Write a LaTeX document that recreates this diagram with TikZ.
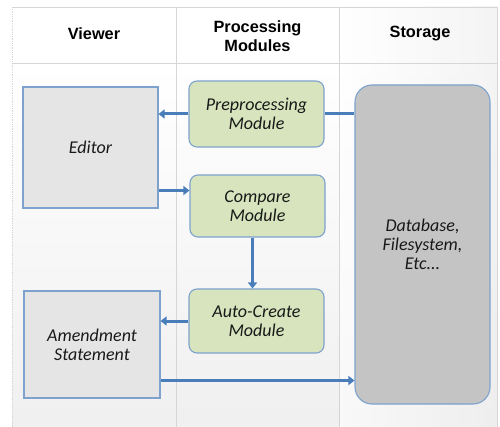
\documentclass[tikz,border=0pt]{standalone}
\usepackage{fontspec}
\setmainfont{Carlito}
\newfontfamily\hdrfont{Liberation Sans}
\usetikzlibrary{arrows.meta,calc}
\definecolor{arrblue}{HTML}{4A7EBB}
\definecolor{boxedge}{HTML}{7EA2CE}
\definecolor{greenfill}{HTML}{D7E4BD}
\definecolor{grayfill}{HTML}{E5E5E5}
\definecolor{storefill}{HTML}{C4C4C4}
\definecolor{gridline}{HTML}{D6D6D6}
\tikzset{
  hdr/.style={font=\hdrfont\bfseries\fontsize{16.3}{19}\selectfont, align=center, text=black},
  body/.style={font=\itshape\fontsize{18}{19}\selectfont, align=center, text=black!90, inner sep=0pt},
  modbox/.style={body, draw=boxedge, line width=1.1pt, fill=greenfill, rounded corners=8pt, minimum width=135pt},
  viewbox/.style={body, draw=boxedge, line width=1.1pt, fill=grayfill, minimum width=135pt},
  storebox/.style={body, draw=boxedge, line width=1.1pt, fill=storefill, rounded corners=17pt, minimum width=135pt, minimum height=319pt},
  arr/.style={draw=arrblue, line width=3pt, -{Triangle[length=6pt,width=9pt]}},
  link/.style={draw=arrblue, line width=3pt},
  grid/.style={draw=gridline, line width=0.8pt}
}
\begin{document}
\begin{tikzpicture}[x=1pt,y=-1pt]
\useasboundingbox (0,0) rectangle (500,427);
% table background
\fill[white] (12,7) rectangle (497,63);
\shade[top color=white, bottom color=black!6] (12,63) rectangle (497,427);
\shade[left color=white, right color=black!7, opacity=0.6] (339,7) rectangle (497,427);
\draw[grid] (12,7) -- (497,7);
\draw[grid] (12,63) -- (497,63);
\draw[grid] (176,7) -- (176,427);
\draw[grid] (339,7) -- (339,427);
\draw[grid] (497,7) -- (497,427);
\draw[gridline, line width=0.8pt, densely dotted] (12,7) -- (12,427);
% headers
\node[hdr] (hv) at (94,34) {Viewer};
\node[hdr] (hp) at (257.5,36) {Processing\\Modules};
\node[hdr] (hs) at (420,34) {Storage};
% boxes
\node[viewbox, minimum height=121pt] (editor) at (90.5,147.5) {Editor};
\node[modbox, minimum height=66pt] (pre) at (256.5,114) {Preprocessing\\Module};
\node[modbox, minimum height=62pt] (cmp) at (257.5,206) {Compare\\Module};
\node[modbox, minimum height=64pt] (auto) at (256.5,321) {Auto-Create\\Module};
\node[viewbox, minimum width=136pt, minimum height=107pt] (amend) at (92,344.5) {Amendment\\Statement};
\node[storebox] (store) at (422.5,244.5) {Database,\\Filesystem,\\Etc...};
% connectors
\draw[arr] (pre.west) -- (pre.west -| editor.east);
\draw[link] (pre.east) -- (pre.east -| store.west);
\draw[arr] ([yshift=18pt]editor.south east) -- ([yshift=18pt]editor.south east -| cmp.west);
\draw[arr] ([xshift=-5pt]cmp.south) -- ([xshift=-5pt]cmp.south |- auto.north);
\draw[arr] (auto.west) -- (auto.west -| amend.east);
\draw[arr] ([yshift=18pt]amend.south east) -- ([yshift=18pt]amend.south east -| store.west);
\end{tikzpicture}
\end{document}
